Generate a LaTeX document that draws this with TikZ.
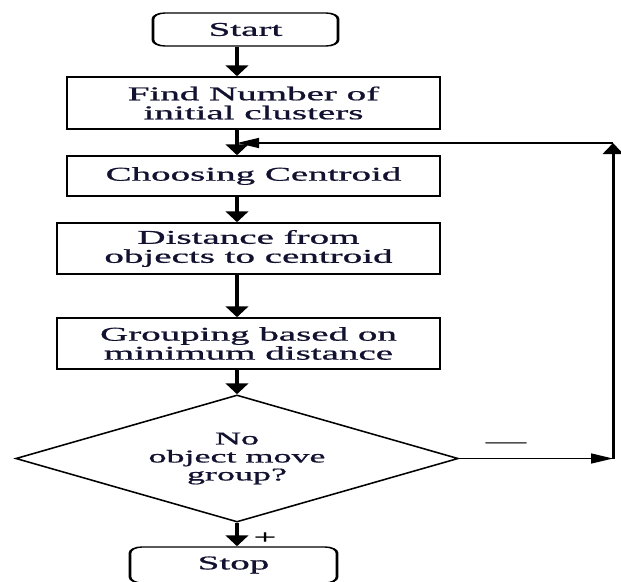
\documentclass[tikz,border=0pt]{standalone}
\usepackage{fontspec}
\setmainfont{Liberation Serif}
\newfontfamily\flowfont{Liberation Serif}[FakeBold=0.7,Ligatures=TeX]
\usetikzlibrary{shapes.geometric,arrows.meta}
\definecolor{inktext}{RGB}{18,18,48}
\begin{document}
\begin{tikzpicture}[x=1pt,y=-1pt,
  box/.style={draw=black,line width=1.4pt,text=inktext,align=center,inner sep=0pt,font=\flowfont\fontsize{19.5}{19}\selectfont},
  term/.style={box,rounded corners=6pt},
  ifbox/.style={box,diamond,aspect=1.74,font=\flowfont\fontsize{18}{18}\selectfont},
  flow/.style={line width=2.1pt,-{Triangle[length=11pt,width=11pt]}},
  back/.style={line width=1.5pt,-{Triangle[length=11pt,width=10pt]}},
  mark text/.style={text=black,font=\flowfont\fontsize{20}{20}\selectfont}]

\clip (0,0) rectangle (621,581);

% the page is stretched sideways, so x is given at half size:
\begin{scope}[transform canvas={xscale=2}]
\coordinate (spine) at (118.5,0);

\node[term,minimum width=92.5,minimum height=33] (start) at (122.75,29.5) {Start};
\node[box,minimum width=186.5,minimum height=52] (find) at (126.75,103) {Find Number of\\initial clusters};
\node[box,minimum width=186.5,minimum height=40] (choose) at (126.75,176) {Choosing Centroid};
\node[box,minimum width=191.5,minimum height=51] (dist) at (124.25,248.5) {Distance from\\objects to centroid};
\node[box,minimum width=191.5,minimum height=51] (group) at (124.25,343.5) {Grouping based on\\minimum distance};
\node[ifbox,minimum width=221.5,minimum height=127] (dec) at (118.5,458.5) {No\\object move\\group?};
\node[term,minimum width=103.5,minimum height=36] (stop) at (116.75,565) {Stop};

\draw[flow] (start.south -| spine) -- (find.north -| spine);
\draw[flow] (find.south -| spine) -- (choose.north -| spine);
\draw[flow] (choose.south -| spine) -- (dist.north -| spine);
\draw[flow] (dist.south -| spine) -- (group.north -| spine);
\draw[flow] (group.south -| spine) -- (dec.north);
\draw[flow] (dec.south) -- (stop.north -| spine);

% way back when objects still move
\coordinate (loopbot) at (306.5,458.5);
\coordinate (looptop) at (306.5,143);
\draw[back] (dec.east) -- (loopbot);
\draw[back] (loopbot) -- (looptop);
\draw[back] (looptop) -- (looptop -| spine);

\node[mark text] (minus) at (253,445) {—};
\node[mark text] (plus) at (132.5,538) {+};
\end{scope}

\end{tikzpicture}
\end{document}
